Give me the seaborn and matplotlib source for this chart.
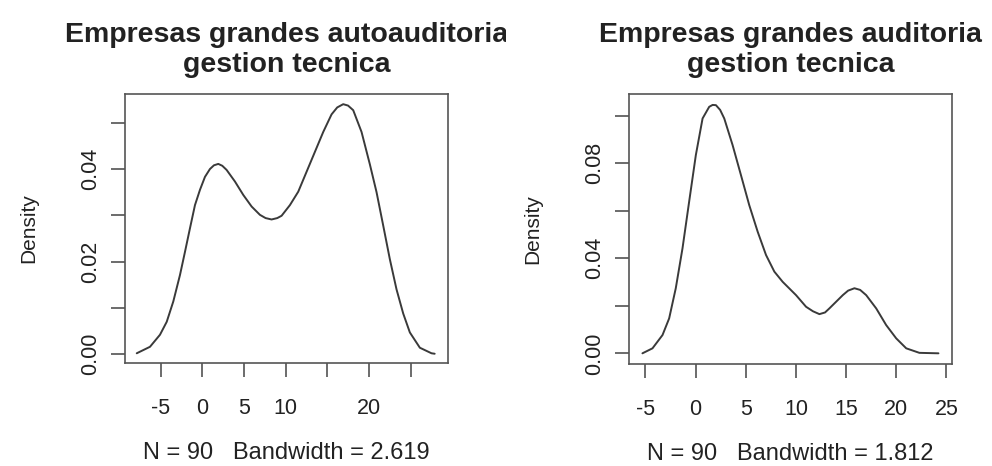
import matplotlib
matplotlib.use("Agg")
import matplotlib.pyplot as plt
import seaborn as sns
import pandas as pd
from matplotlib.transforms import Bbox, TransformedBbox

# ---- data (kernel density estimates) ----
left_x = [-7.87, -6.28, -5.08, -4.27, -3.48, -2.68, -2.08, -1.48, -0.88, -0.28,
          0.32, 0.92, 1.4, 1.92, 2.4, 2.92, 3.92, 4.92, 5.92, 6.92, 7.6, 8.32, 9.0, 9.52,
          10.52, 11.52, 12.52, 13.52, 14.52, 15.52, 16.2, 16.92, 17.5, 18.12, 19.12, 20.12,
          20.92, 21.72, 22.52, 23.32, 24.12, 24.92, 26.12, 27.52, 27.9]
left_y = [0.0002, 0.0016, 0.0042, 0.0070, 0.0114, 0.0171, 0.0221, 0.0272, 0.0322, 0.0355,
          0.0383, 0.0400, 0.0408, 0.0411, 0.0407, 0.0398, 0.0373, 0.0344, 0.0319, 0.0301, 0.0294,
          0.0291, 0.0294, 0.0299,
          0.0322, 0.0351, 0.0394, 0.0437, 0.0480, 0.0518, 0.0533, 0.0540, 0.0537, 0.0527, 0.0480,
          0.0410, 0.0350, 0.0278, 0.0205, 0.0140, 0.0088, 0.0047, 0.0014, 0.0002, 0.0001]

right_x = [-5.29, -4.29, -3.29, -2.63, -1.97, -1.30, -0.64, 0.03, 0.70, 1.36, 1.7,
           2.03, 2.45, 2.86, 3.69, 4.52, 5.35, 6.19, 7.02, 7.85, 8.68, 10.01,
           11.01, 11.7, 12.34, 12.9, 13.33, 14.67, 15.2, 15.83, 16.4, 17.00, 18.00, 18.99,
           19.99, 20.99, 22.3, 24.2]
right_y = [0.0000, 0.0021, 0.0077, 0.0147, 0.0274, 0.0442, 0.0638, 0.0835, 0.0989, 0.1038,
           0.1046, 0.1045, 0.1025, 0.0989, 0.0877, 0.0751, 0.0624, 0.0512, 0.0414, 0.0344,
           0.0301, 0.0245, 0.0196, 0.0177, 0.0165, 0.0172, 0.0189, 0.0245, 0.0264, 0.0274,
           0.0267, 0.0245, 0.0189, 0.0119, 0.0063, 0.0021, 0.0002, 0.0000]

titles = ["Empresas grandes autoauditoria\ngestion tecnica",
          "Empresas grandes auditoria\ngestion tecnica"]
xlabels = ["N = 90   Bandwidth = 2.619", "N = 90   Bandwidth = 1.812"]
ylabel = "Density"

x_ticks = [-5, 0, 5, 10, 15, 20, 25]
left_xticklabels = ["-5", "0", "5", "10", "", "20", ""]
right_xticklabels = ["-5", "0", "5", "10", "15", "20", "25"]
left_yticks = [0.00, 0.01, 0.02, 0.03, 0.04, 0.05]
left_yticklabels = ["0.00", "", "0.02", "", "0.04", ""]
right_yticks = [0.00, 0.02, 0.04, 0.06, 0.08, 0.10]
right_yticklabels = ["0.00", "", "0.04", "", "0.08", ""]

# ---- style ----
sns.set_style("ticks")
plt.rcParams["font.family"] = ["Liberation Sans", "DejaVu Sans"]
ink = "#222222"

W, H = 992, 466
fig = plt.figure(figsize=(W / 100, H / 100), dpi=100)
fig.patch.set_facecolor("white")

def px_axes(x0, x1, y0, y1):
    return fig.add_axes([x0 / W, 1 - y1 / H, (x1 - x0) / W, (y1 - y0) / H])

ax1 = px_axes(125, 448, 94, 363)
ax2 = px_axes(629, 952, 94, 364)

panels = [
    (ax1, left_x, left_y, (-9.28, 29.5), (-0.0019, 0.0562), left_xticklabels,
     left_yticks, left_yticklabels),
    (ax2, right_x, right_y, (-6.63, 25.55), (-0.0045, 0.1092), right_xticklabels,
     right_yticks, right_yticklabels),
]

for i, (ax, xs, ys, xlim, ylim, xtl, yt, ytl) in enumerate(panels):
    df = pd.DataFrame({"x": xs, "density": ys})
    sns.lineplot(data=df, x="x", y="density", ax=ax, color="#3a3a3a",
                 linewidth=1.4, sort=False)
    for ln in ax.get_lines():
        ln.set_solid_joinstyle("round")
    ax.set_xlim(*xlim)
    ax.set_ylim(*ylim)
    ax.set_xticks(x_ticks)
    ax.set_xticklabels(xtl)
    ax.set_yticks(yt)
    ax.set_yticklabels(ytl, rotation=90, va="center")
    for s in ax.spines.values():
        s.set_visible(True)
        s.set_color("#555555")
        s.set_linewidth(1.2)
    ax.tick_params(axis="both", direction="out", length=10, width=1.1,
                   color="#444444", labelsize=15.5, labelcolor=ink)
    ax.tick_params(axis="x", pad=15)
    ax.tick_params(axis="y", pad=7)
    ax.set_xlabel(xlabels[i], fontsize=17, color=ink, labelpad=17)
    ax.set_ylabel(ylabel, fontsize=15, color=ink, labelpad=30)
    ax.set_facecolor("white")

# titles (left one clipped at its figure region as in the reference)
t1 = fig.text(286.5 / W, 1 - 50 / H, titles[0], ha="center", va="center",
              fontsize=20.5, fontweight="bold", color=ink, linespacing=1.15)
t1.set_clip_box(TransformedBbox(Bbox.from_extents(0, 0, 506 / W, 1), fig.transFigure))
t1.set_clip_on(True)
fig.text(790.5 / W, 1 - 50 / H, titles[1], ha="center", va="center",
         fontsize=20.5, fontweight="bold", color=ink, linespacing=1.15)

fig.savefig("out.png", dpi=100, facecolor="white")
